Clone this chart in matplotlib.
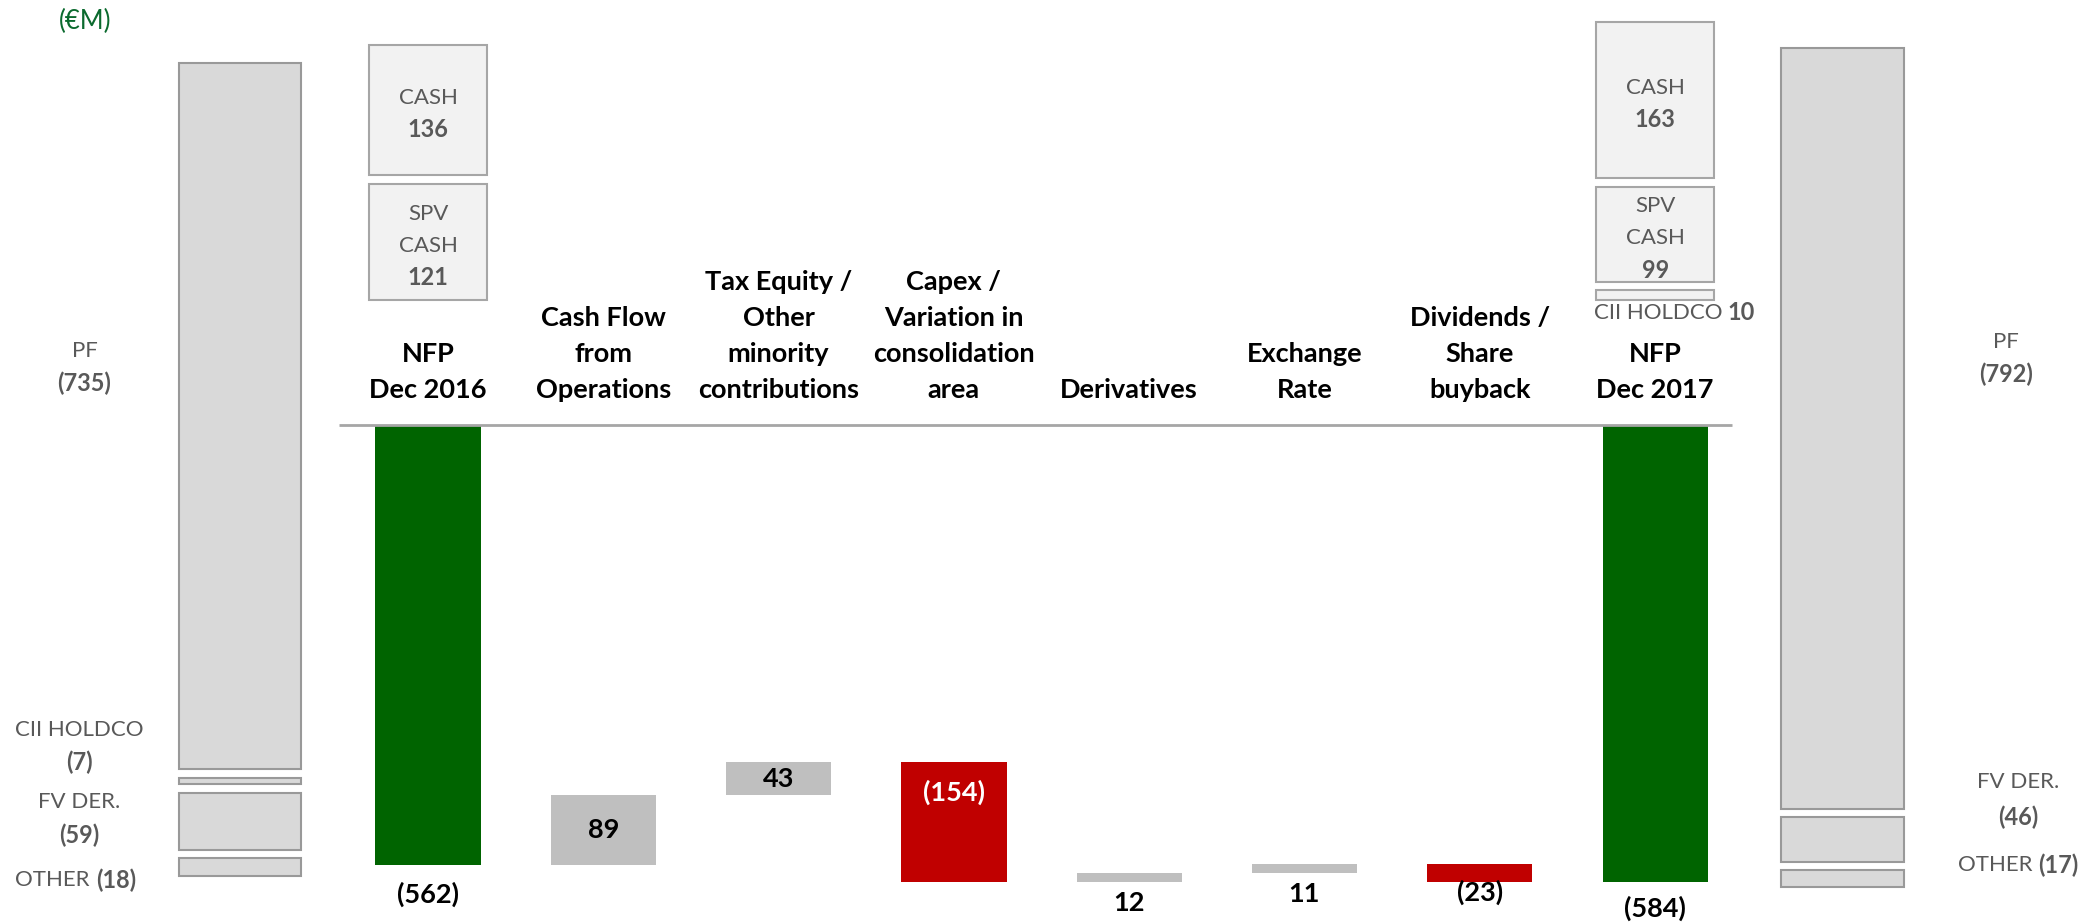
import matplotlib
matplotlib.use("Agg")
import matplotlib.pyplot as plt
from matplotlib.transforms import IdentityTransform
import numpy as np

plt.rcParams["font.family"] = ["Lato", "DejaVu Sans"]

# ---- Net financial position bridge (€M) ----
steps = ["NFP\nDec 2016", "Cash Flow\nfrom\nOperations",
         "Tax Equity /\nOther\nminority\ncontributions",
         "Capex /\nVariation in\nconsolidation\narea", "Derivatives",
         "Exchange\nRate", "Dividends /\nShare\nbuyback", "NFP\nDec 2017"]
nfp_start = -562
movements = [89, 43, -154, 12, 11, -23]
nfp_end = -584
value_labels = ["(562)", "89", "43", "(154)", "12", "11", "(23)", "(584)"]

# ---- Gross debt breakdown on the outer columns ----
debt_2016_items = ["PF", "CII HOLDCO", "FV DER.", "OTHER"]
debt_2016 = [735, 7, 59, 18]
debt_2017_items = ["PF", "FV DER.", "OTHER"]
debt_2017 = [792, 46, 17]

# ---- Cash items above each NFP column ----
cash_2016_items = ["CASH", "SPV\nCASH"]
cash_2016 = [136, 121]
cash_2017_items = ["CASH", "SPV\nCASH", "CII HOLDCO"]
cash_2017 = [163, 99, 10]

# ---- styling ----
GREEN = "#006400"
RED = "#c00000"
GREY = "#bfbfbf"
STACK_FACE, STACK_EDGE = "#d9d9d9", "#999999"
CASH_FACE, CASH_EDGE = "#f2f2f2", "#a6a6a6"
LABEL_GREY = "#595959"
UNIT_GREEN = "#0b6a2e"
CAT_SIZE = 19.5
VALUE_SIZE = 19.5
SMALL_SIZE = 16

W, H, DPI = 2099, 924, 100
fig = plt.figure(figsize=(W / DPI, H / DPI), dpi=DPI)
fig.patch.set_facecolor("white")

ax = fig.add_axes([0, 0, 1, 1])
ax.set_xlim(-2.4415, 9.532)
ax.set_ylim(-637.3, 542.8)
ax.axis("off")

# second scale for the debt / cash composition boxes
STACK_PX = 0.96  # pixels per €M on the composition scale
axs = fig.add_axes([0, 0, 1, 1], sharex=ax)
axs.set_ylim(0, H / STACK_PX)
axs.axis("off")
axs.patch.set_alpha(0)

renderer = fig.canvas.get_renderer()


def to_px_top(y_stack):
    """Composition-scale value -> pixel row measured from the top."""
    return H - y_stack * STACK_PX


def rich_label(x, row, lines, size, color, spacing):
    """Centered multi-line label; each line is a list of (text, bold) parts."""
    xd = ax.transData.transform((x, 0))[0]
    n = len(lines)
    gap = 0.26 * size / 72 * DPI
    for i, parts in enumerate(lines):
        yd = H - (row + (i - (n - 1) / 2) * spacing)
        arts = [fig.text(0, 0, s, fontsize=size * (1.06 if b else 1.0),
                         color=color, weight="bold" if b else "normal",
                         ha="left", va="center", transform=IdentityTransform())
                for s, b in parts]
        widths = [a.get_window_extent(renderer).width for a in arts]
        total = sum(widths) + gap * (len(arts) - 1)
        cur = xd - total / 2
        for a, w in zip(arts, widths):
            a.set_position((cur, yd))
            cur += w + gap


# ---- waterfall ----
x = np.arange(len(steps))
levels = nfp_start + np.concatenate([[0], np.cumsum(movements)])
bottoms = [nfp_start] + list(np.minimum(levels[:-1], levels[1:])) + [nfp_end]
heights = [-nfp_start] + [abs(m) for m in movements] + [-nfp_end]
colors = [GREEN] + [GREY if m > 0 else RED for m in movements] + [GREEN]
ax.bar(x, heights, bottom=bottoms, width=0.6, color=colors, zorder=2)
ax.hlines(0, -0.51, 7.44, color="#a6a6a6", linewidth=2, zorder=3)

for xi, lab in zip(x, steps):
    ax.text(xi, 30, lab, ha="center", va="bottom", fontsize=CAT_SIZE,
            weight="bold", linespacing=1.6, color="black")

# where each value label sits relative to its bar (anchor, pixel offset)
placement = [("bottom", -29), ("mid", 0), ("mid", 0), ("top", -31),
             ("bottom", -21), ("bottom", -21), ("bottom", -10), ("bottom", -26)]
for xi, lab, b, h, (anchor, off), c in zip(x, value_labels, bottoms, heights,
                                           placement, colors):
    y = {"bottom": b, "mid": b + h / 2, "top": b + h}[anchor]
    ax.annotate(lab, xy=(xi, y), xytext=(0, off), textcoords="offset pixels",
                ha="center", va="center", fontsize=VALUE_SIZE, weight="bold",
                color="white" if (c == RED and anchor == "top") else "black",
                zorder=4)

# ---- composition stacks ----
GAP = 9


def stack(xc, values, base, width, face, edge):
    spans = []
    y = base
    for v in reversed(values):
        axs.bar(xc, v, bottom=y, width=width, color=face, edgecolor=edge,
                linewidth=1.5, zorder=2)
        spans.append((y, y + v))
        y += v + GAP
    return spans[::-1]


stack(-1.072, debt_2016, 50.5, 0.70, STACK_FACE, STACK_EDGE)
stack(8.07, debt_2017, 39, 0.70, STACK_FACE, STACK_EDGE)
cash16 = stack(0, cash_2016, 650, 0.67, CASH_FACE, CASH_EDGE)
cash17 = stack(7, cash_2017, 650, 0.67, CASH_FACE, CASH_EDGE)

# debt labels
rich_label(-1.96, 367, [[("PF", 0)], [("(735)", 1)]], SMALL_SIZE, LABEL_GREY, 32)
rich_label(-1.99, 746, [[("CII HOLDCO", 0)], [("(7)", 1)]], SMALL_SIZE, LABEL_GREY, 33)
rich_label(-1.99, 819, [[("FV DER.", 0)], [("(59)", 1)]], SMALL_SIZE, LABEL_GREY, 33)
rich_label(-2.01, 880, [[("OTHER", 0), ("(18)", 1)]], SMALL_SIZE, LABEL_GREY, 33)
rich_label(9.00, 358, [[("PF", 0)], [("(792)", 1)]], SMALL_SIZE, LABEL_GREY, 33)
rich_label(9.07, 800, [[("FV DER.", 0)], [("(46)", 1)]], SMALL_SIZE, LABEL_GREY, 35)
rich_label(9.07, 865, [[("OTHER", 0), ("(17)", 1)]], SMALL_SIZE, LABEL_GREY, 33)

# cash labels inside their boxes
for xc, items, vals, spans in [(0, cash_2016_items, cash_2016, cash16),
                               (7, cash_2017_items, cash_2017, cash17)]:
    for name, v, (lo, hi) in zip(items, vals, spans):
        if name == "CII HOLDCO":
            rich_label(7.11, to_px_top(lo) + 13, [[(name, 0), (str(v), 1)]],
                       SMALL_SIZE, LABEL_GREY, 32)
            continue
        lines = [[(part, 0)] for part in name.split("\n")] + [[(str(v), 1)]]
        rich_label(xc, (to_px_top(lo) + to_px_top(hi)) / 2 + 4, lines,
                   SMALL_SIZE, LABEL_GREY, 32)

fig.text(85, H - 21, "(€M)", transform=IdentityTransform(), ha="center",
         va="center", fontsize=18.5, color=UNIT_GREEN)

fig.savefig("out.png", dpi=DPI, facecolor="white")
